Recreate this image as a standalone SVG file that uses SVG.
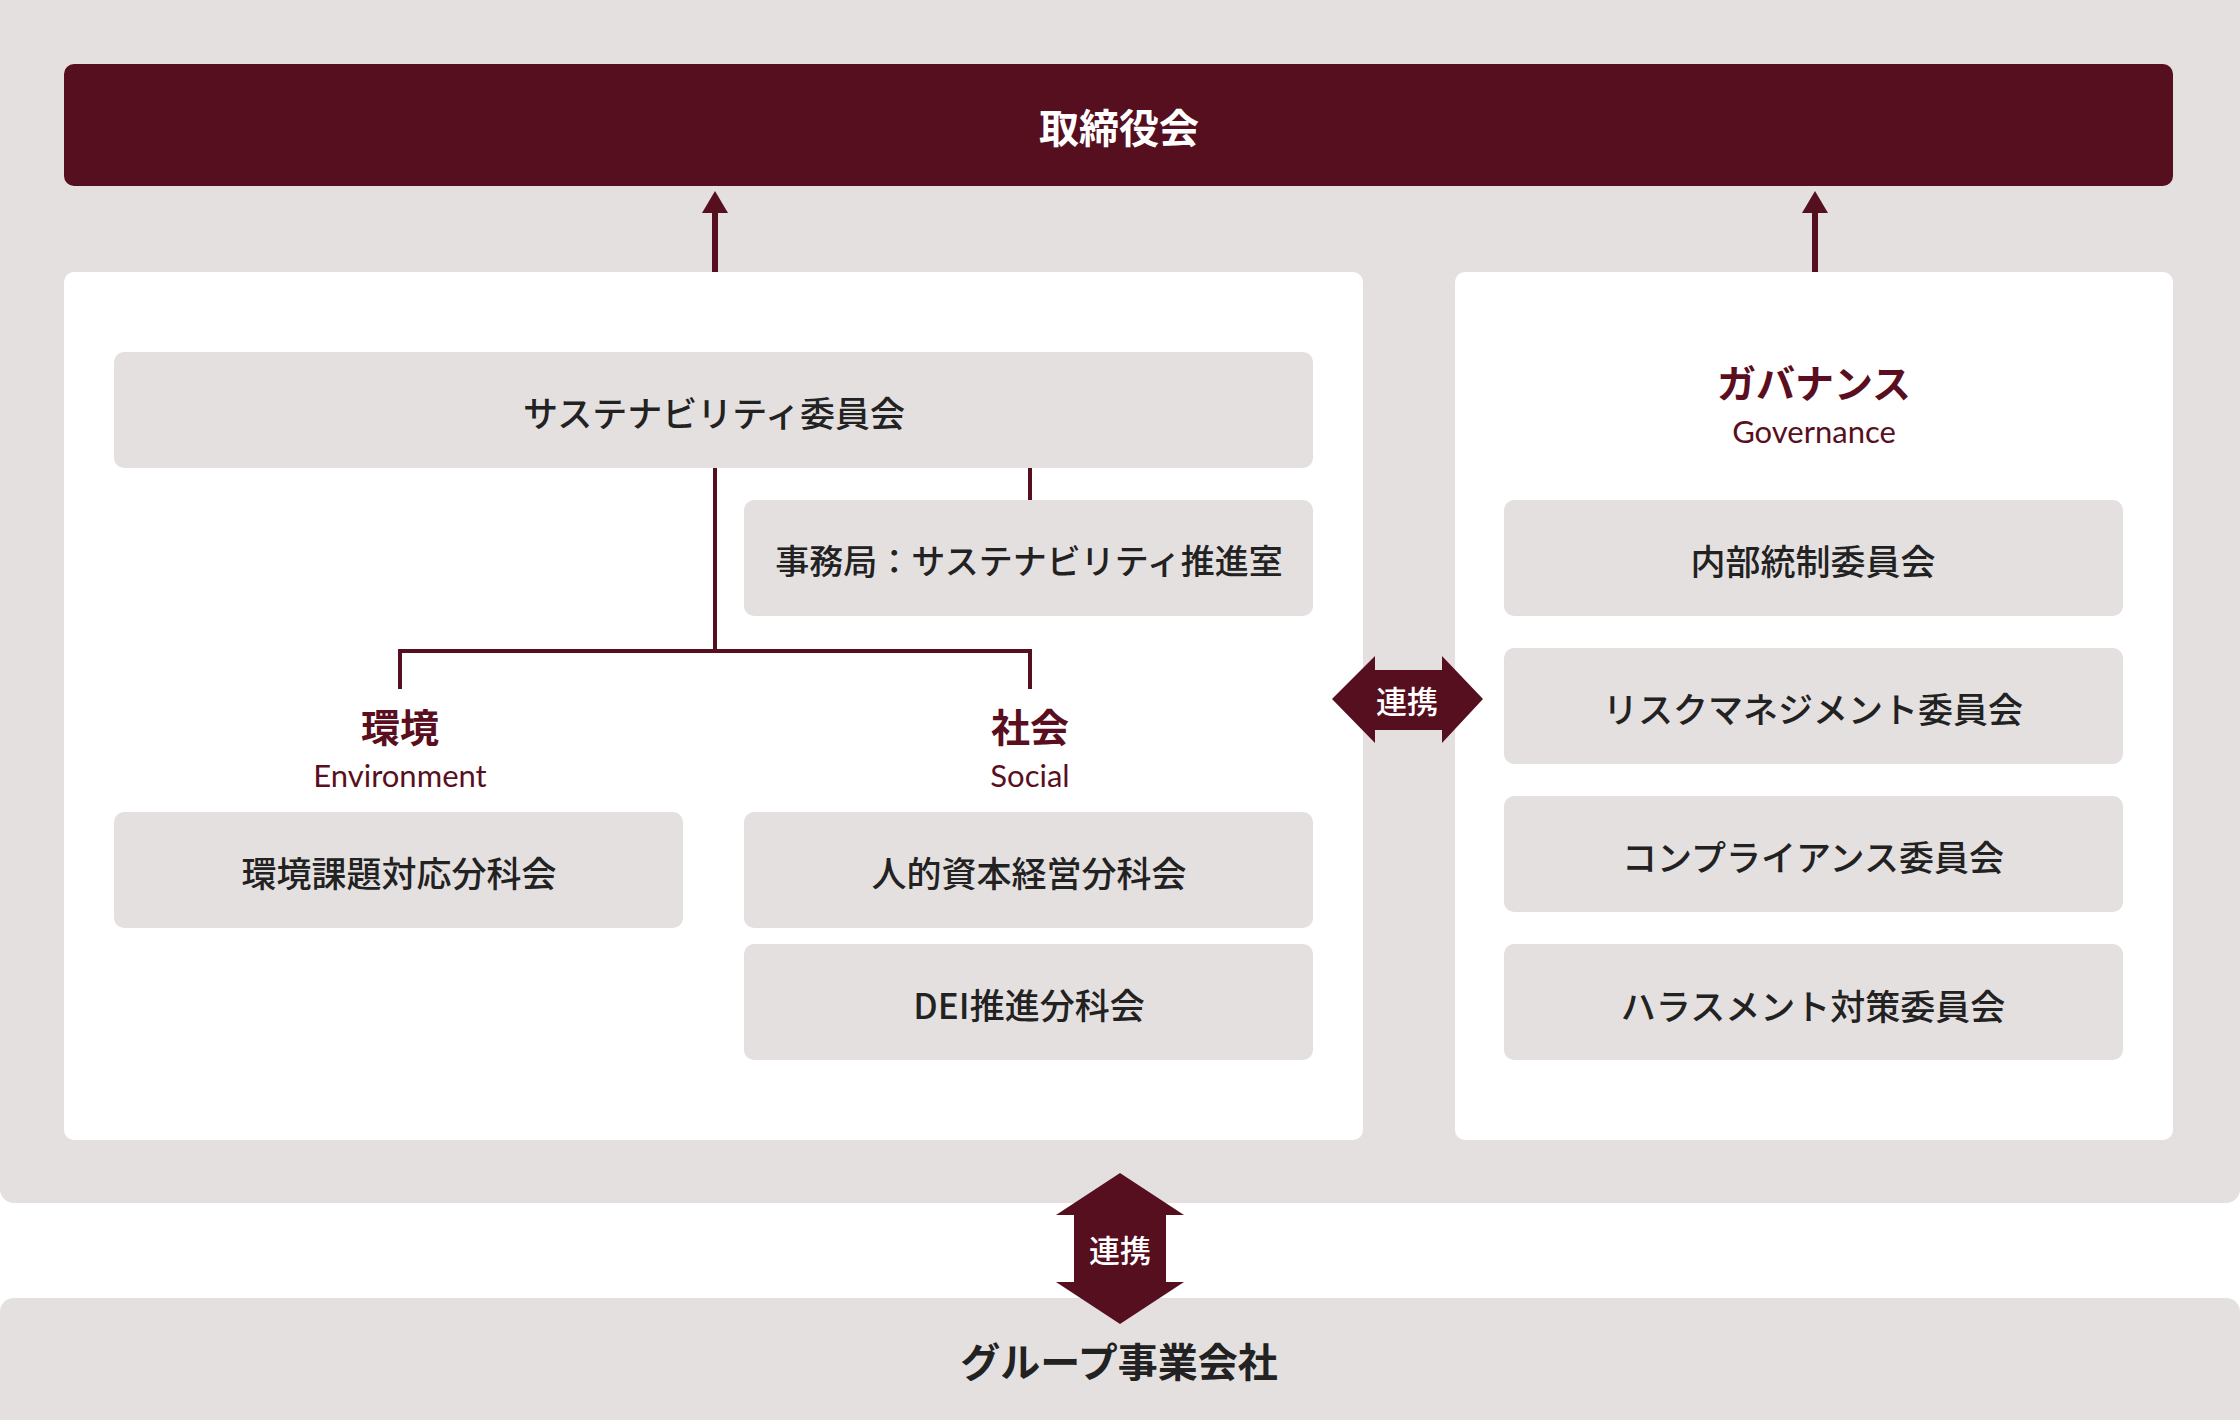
<svg xmlns="http://www.w3.org/2000/svg" width="2240" height="1420" viewBox="0 0 2240 1420">
<style>
.bg{fill:#e5e0e0}
.panel{fill:#ffffff}
.box{fill:#e5e0e0}
.t{font-family:"Noto Sans CJK JP","Noto Sans",sans-serif;font-size:35px;fill:#222222;text-anchor:middle;dominant-baseline:central;font-weight:500}
.h{font-family:"Noto Sans CJK JP","Noto Sans",sans-serif;font-size:39px;fill:#5a0f20;text-anchor:middle;dominant-baseline:central;font-weight:700}
.en{font-family:Lato,"Noto Sans",sans-serif;font-size:31px;fill:#5a0f20;text-anchor:middle;dominant-baseline:central}
.w{font-family:"Noto Sans CJK JP","Noto Sans",sans-serif;fill:#ffffff;text-anchor:middle;dominant-baseline:central;font-weight:700}
.line{stroke:#560f1f;stroke-width:4;fill:none}
.arr{fill:#560f1f}
</style>
<rect class="bg" x="0" y="-20" width="2240" height="1223" rx="14"/>
<rect class="bg" x="0" y="1298" width="2240" height="140" rx="14"/>
<g id="board">
<rect x="64" y="64" width="2109" height="122" rx="10" fill="#560f1f"/>
<text class="w" x="1119" y="126" font-size="40">取締役会</text>
</g>
<g id="left-panel"><rect class="panel" x="64" y="272" width="1299" height="868" rx="10"/></g>
<g id="right-panel"><rect class="panel" x="1455" y="272" width="718" height="868" rx="10"/></g>
<g id="connectors">
<line class="line" x1="715" y1="272" x2="715" y2="212" style="stroke-width:6"/>
<path class="arr" d="M715 191 L728 213 L702 213 Z"/>
<line class="line" x1="1815" y1="272" x2="1815" y2="212" style="stroke-width:6"/>
<path class="arr" d="M1815 191 L1828 213 L1802 213 Z"/>
<path class="line" d="M715 467 V651"/>
<path class="line" d="M1030 467 V500"/>
<path class="line" d="M400 689 V651 H1030 V689"/>
</g>
<g id="sustainability-committee">
<rect class="box" x="114" y="352" width="1199" height="116" rx="10"/>
<text class="t" x="714" y="411">サステナビリティ委員会</text>
</g>
<g id="secretariat">
<rect class="box" x="744" y="500" width="569" height="116" rx="10"/>
<text class="t" x="1029" y="559" style="font-size:34px">事務局：サステナビリティ推進室</text>
</g>
<g id="environment">
<text class="h" x="400" y="725">環境</text>
<text class="en" x="400" y="775">Environment</text>
</g>
<g id="social">
<text class="h" x="1030" y="725">社会</text>
<text class="en" x="1030" y="775">Social</text>
</g>
<g id="env-subcommittee">
<rect class="box" x="114" y="812" width="569" height="116" rx="10"/>
<text class="t" x="399" y="871">環境課題対応分科会</text>
</g>
<g id="human-capital">
<rect class="box" x="744" y="812" width="569" height="116" rx="10"/>
<text class="t" x="1029" y="871">人的資本経営分科会</text>
</g>
<g id="dei">
<rect class="box" x="744" y="944" width="569" height="116" rx="10"/>
<text class="t" x="1029" y="1003">DEI推進分科会</text>
</g>
<g id="governance">
<text class="h" x="1814" y="381">ガバナンス</text>
<text class="en" x="1814" y="431">Governance</text>
</g>
<g id="internal-control">
<rect class="box" x="1504" y="500" width="619" height="116" rx="10"/>
<text class="t" x="1813" y="559">内部統制委員会</text>
</g>
<g id="risk">
<rect class="box" x="1504" y="648" width="619" height="116" rx="10"/>
<text class="t" x="1813" y="707">リスクマネジメント委員会</text>
</g>
<g id="compliance">
<rect class="box" x="1504" y="796" width="619" height="116" rx="10"/>
<text class="t" x="1813" y="855">コンプライアンス委員会</text>
</g>
<g id="harassment">
<rect class="box" x="1504" y="944" width="619" height="116" rx="10"/>
<text class="t" x="1813" y="1004">ハラスメント対策委員会</text>
</g>
<g id="link-h">
<path class="arr" d="M1332 699 L1375 656 L1375 670 L1442 670 L1442 656 L1483 699 L1442 743 L1442 730 L1375 730 L1375 743 Z"/>
<text class="w" x="1407" y="699" font-size="31" style="font-weight:500">連携</text>
</g>
<g id="group-companies">
<text class="t" x="1119" y="1360" style="font-weight:700;font-size:40px">グループ事業会社</text>
</g>
<g id="link-v">
<path class="arr" d="M1120 1173 L1184 1215 L1166 1215 L1166 1282 L1184 1282 L1120 1324 L1056 1282 L1074 1282 L1074 1215 L1056 1215 Z"/>
<text class="w" x="1120" y="1248" font-size="31" style="font-weight:500">連携</text>
</g>
</svg>
